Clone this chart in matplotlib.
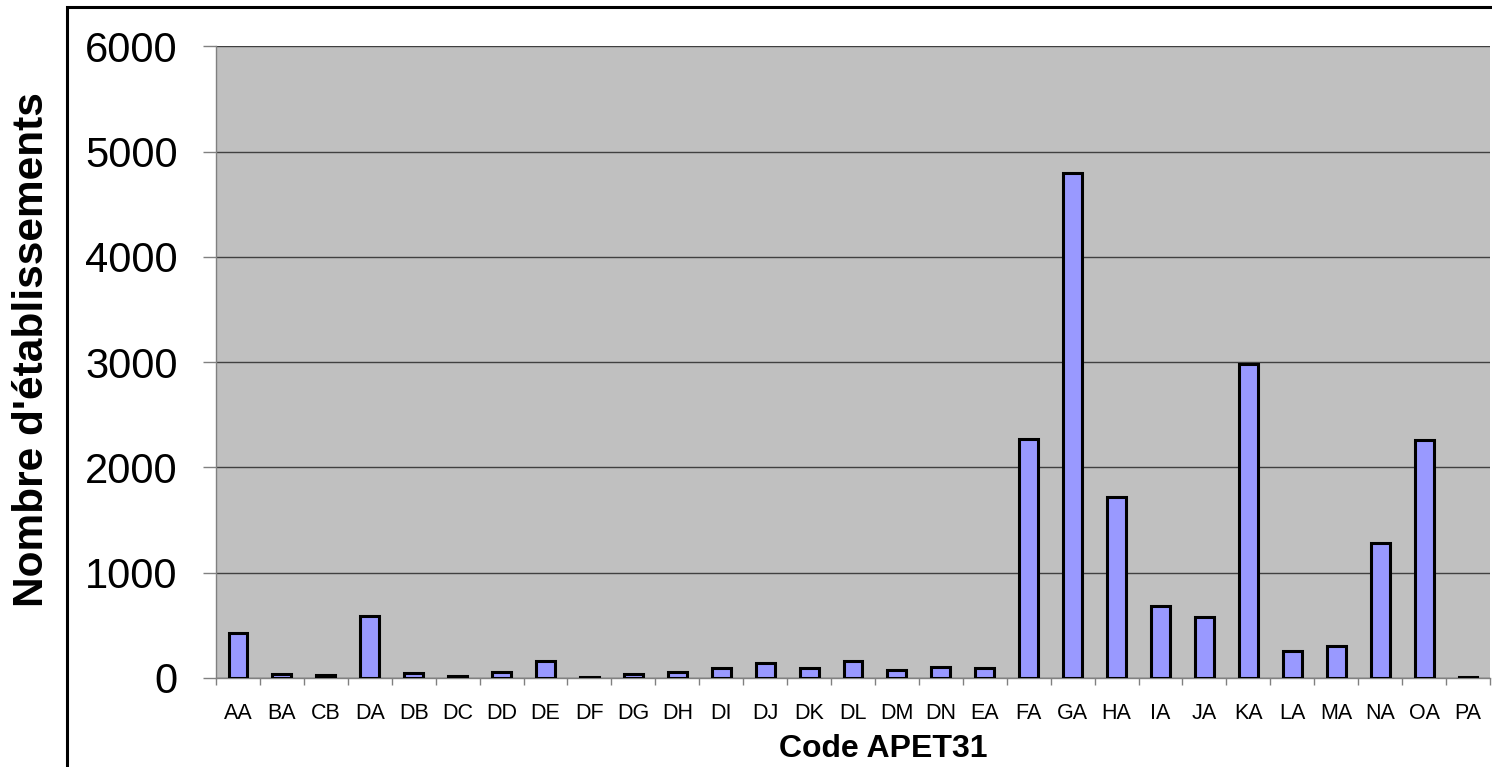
import matplotlib
matplotlib.use("Agg")
import matplotlib.pyplot as plt
import numpy as np
from matplotlib.patches import Rectangle

categories = ["AA", "BA", "CB", "DA", "DB", "DC", "DD", "DE", "DF", "DG", "DH",
              "DI", "DJ", "DK", "DL", "DM", "DN", "EA", "FA", "GA", "HA", "IA",
              "JA", "KA", "LA", "MA", "NA", "OA", "PA"]
values = [425, 38, 30, 590, 45, 20, 50, 160, 10, 35, 50,
          90, 135, 90, 160, 70, 100, 90, 2270, 4800, 1716, 682,
          577, 2980, 256, 304, 1281, 2260, 5]
yticks = [0, 1000, 2000, 3000, 4000, 5000, 6000]

plt.rcParams['font.family'] = ['Liberation Sans', 'DejaVu Sans']

fig = plt.figure(figsize=(14.92, 7.67), dpi=100)
fig.patch.set_facecolor("white")
# outer frame
fig.add_artist(Rectangle((67/1492, -0.05), 1.1, 1 - 7/767 + 0.05,
                         transform=fig.transFigure, fill=False,
                         edgecolor="black", linewidth=2.2))

ax = fig.add_axes([216/1492, 1 - 677.7/767, (1490 - 216)/1492, (677.7 - 46.5)/767])
ax.set_facecolor("#C0C0C0")
x = np.arange(len(categories))
ax.bar(x, values, width=0.43, color="#9999FF", edgecolor="black", linewidth=2.2, zorder=3)

ax.set_xlim(-0.5, len(categories) - 0.5)
ax.set_ylim(0, 6000)
ax.set_yticks(yticks)
ax.set_yticklabels([str(v) for v in yticks], fontsize=30)
ax.yaxis.grid(True, color="#404040", linewidth=1.0, zorder=1)
ax.set_axisbelow(True)

ax.set_xticks(x)
ax.set_xticklabels(categories, fontsize=15.5)
ax.set_xticks(np.arange(-0.5, len(categories)), minor=True)
ax.tick_params(axis="x", which="major", length=0, pad=18)
ax.tick_params(axis="x", which="minor", length=5, color="#808080", width=1)
ax.tick_params(axis="y", length=9.5, color="#808080", width=1, pad=18)

for s in ["top", "right"]:
    ax.spines[s].set_visible(False)
ax.spines["left"].set_color("#808080")
ax.spines["bottom"].set_color("#808080")
ax.spines["left"].set_linewidth(1)
ax.spines["bottom"].set_linewidth(1)

ax.set_xlabel("Code APET31", fontsize=23, fontweight="bold")
ax.xaxis.set_label_coords(0.524, -0.089)
ax.set_ylabel("Nombre d'établissements", fontsize=30.5, fontweight="bold")
ax.yaxis.set_label_coords(-0.129, 0.52)

fig.savefig("out.png", dpi=100, facecolor="white")
